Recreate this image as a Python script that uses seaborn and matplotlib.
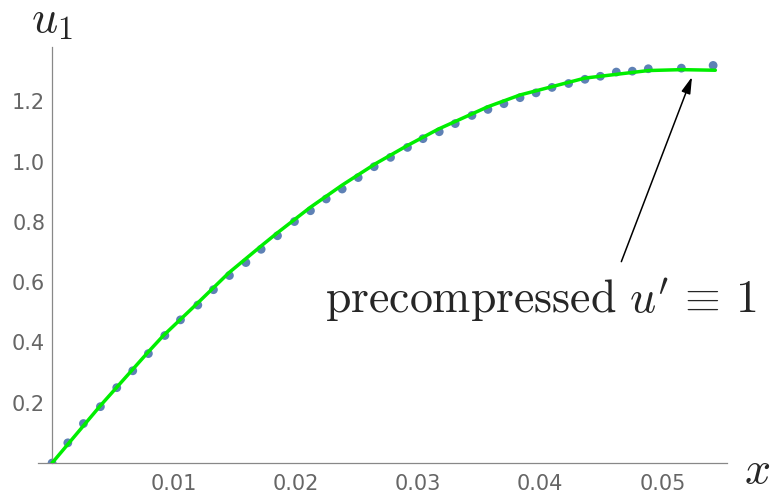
import numpy as np
import pandas as pd
import matplotlib
matplotlib.use("Agg")
import matplotlib.pyplot as plt
import seaborn as sns

# numerical solution (dots)
x_pts = [0.0, 0.00129, 0.00257, 0.00396, 0.00530, 0.00661, 0.00789, 0.00924,
         0.01052, 0.01194, 0.01322, 0.01453, 0.01588, 0.01713, 0.01847, 0.01986,
         0.02117, 0.02246, 0.02377, 0.02508, 0.02639, 0.02773, 0.02912, 0.03039,
         0.03172, 0.03303, 0.03440, 0.03571, 0.03702, 0.03834, 0.03965, 0.04096,
         0.04232, 0.04366, 0.04492, 0.04623, 0.04754, 0.04885, 0.05156, 0.05416]
u_pts = [0.0, 0.067, 0.131, 0.187, 0.250, 0.306, 0.363, 0.423,
         0.475, 0.524, 0.575, 0.622, 0.665, 0.709, 0.754, 0.801,
         0.837, 0.876, 0.909, 0.947, 0.983, 1.014, 1.047, 1.076,
         1.099, 1.126, 1.153, 1.173, 1.192, 1.212, 1.228, 1.246,
         1.259, 1.273, 1.283, 1.297, 1.300, 1.308, 1.310, 1.319]

# reference curve (green)
x_curve = [0.0, 0.00393, 0.00787, 0.0091, 0.01186, 0.01451, 0.01716, 0.01844,
           0.02115, 0.02377, 0.0265, 0.0291, 0.03166, 0.03571, 0.03834,
           0.04366, 0.04885, 0.05156, 0.05434]
u_curve = [0.0, 0.189, 0.368, 0.422, 0.528, 0.632, 0.721, 0.763,
           0.848, 0.922, 0.993, 1.053, 1.108, 1.182, 1.221,
           1.277, 1.302, 1.305, 1.303]

x_major = [0.01, 0.02, 0.03, 0.04, 0.05]
y_major = [0.2, 0.4, 0.6, 0.8, 1.0, 1.2]

sns.set_style("white")
plt.rcParams["font.family"] = ["DejaVu Sans"]
plt.rcParams["mathtext.fontset"] = "cm"

pts = pd.DataFrame({"x": x_pts, "u": u_pts})
crv = pd.DataFrame({"x": x_curve, "u": u_curve})

fig = plt.figure(figsize=(7.81, 4.92), dpi=100)
ax = fig.add_axes([0.0487, 0.0589, 0.8822, 0.8455])

sns.scatterplot(data=pts, x="x", y="u", ax=ax, color="#5E81B5", s=40,
                edgecolor="none", zorder=2)
sns.lineplot(data=crv, x="x", y="u", ax=ax, color="#00ee00", lw=2.5,
             zorder=3, sort=False)

ax.set_xlim(-0.00115, 0.0553)
ax.set_ylim(0, 1.38)

for side in ["top", "right"]:
    ax.spines[side].set_visible(False)
ax.spines["left"].set_position(("data", 0))
for side in ["left", "bottom"]:
    ax.spines[side].set_color("#888888")
    ax.spines[side].set_linewidth(0.9)

ax.set_xticks(x_major)
ax.set_xticklabels([f"{v:.2f}" for v in x_major])
ax.set_yticks(y_major)
ax.set_yticklabels([f"{v:.1f}" for v in y_major])
ax.set_xticks(np.arange(0.002, 0.0553, 0.002), minor=True)
ax.set_yticks(np.arange(0.05, 1.38, 0.05), minor=True)
ax.tick_params(axis="both", which="major", direction="in", length=4,
               width=0.9, color="#888888", labelcolor="#666666", labelsize=15)
ax.tick_params(axis="both", which="minor", direction="in", length=2.3,
               width=0.7, color="#888888")
ax.tick_params(axis="x", pad=8)
ax.tick_params(axis="y", pad=5)

ax.set_xlabel(r"$x$", fontsize=33)
ax.xaxis.set_label_coords(1.0435, 0.035)
ax.set_ylabel(r"$u_1$", fontsize=33, rotation=0, ha="center", va="center")
ax.yaxis.set_label_coords(0.02, 1.065)

ax.annotate("", xy=(0.05243, 1.281), xytext=(0.04664, 0.668),
            arrowprops=dict(arrowstyle="-|>,head_length=1.0,head_width=0.28",
                            color="black", lw=1.1, shrinkA=0, shrinkB=0))
ax.text(0.02238, 0.498, r"$\mathrm{precompressed}\ u'\,\equiv\,1$",
        fontsize=33, ha="left", va="baseline")

fig.savefig("out.png", dpi=100)
